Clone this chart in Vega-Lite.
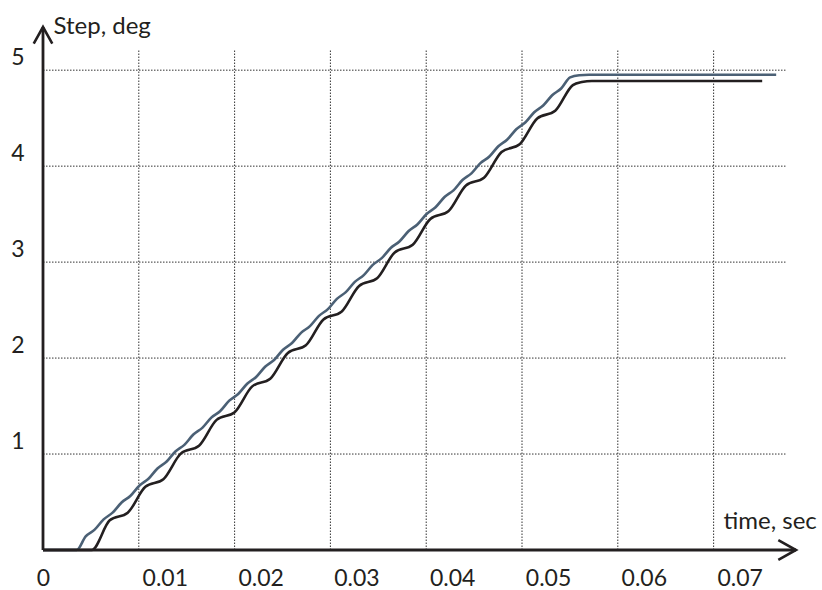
{
  "$schema": "https://vega.github.io/schema/vega-lite/v6.json",
  "width": 753,
  "height": 523,
  "autosize": "none",
  "padding": {"left": 43, "top": 27, "right": 26, "bottom": 40},
  "background": "white",
  "config": {"view": {"stroke": null}},
  "datasets": {
    "grid": [
      {"x": 0.01, "x2": 0.01, "y": 0, "y2": 5.21},
      {"x": 0.02, "x2": 0.02, "y": 0, "y2": 5.21},
      {"x": 0.03, "x2": 0.03, "y": 0, "y2": 5.21},
      {"x": 0.04, "x2": 0.04, "y": 0, "y2": 5.21},
      {"x": 0.05, "x2": 0.05, "y": 0, "y2": 5.21},
      {"x": 0.06, "x2": 0.06, "y": 0, "y2": 5.21},
      {"x": 0.07, "x2": 0.07, "y": 0, "y2": 5.21},
      {"x": 0, "x2": 0.0775, "y": 1, "y2": 1},
      {"x": 0, "x2": 0.0775, "y": 2, "y2": 2},
      {"x": 0, "x2": 0.0775, "y": 3, "y2": 3},
      {"x": 0, "x2": 0.0775, "y": 4, "y2": 4},
      {"x": 0, "x2": 0.0775, "y": 5, "y2": 5}
    ],
    "axes": [
      {"a": "x", "x": 0, "y": 0, "x2": 0.0786, "y2": 0},
      {"a": "y", "x": 0, "y": 0, "x2": 0, "y2": 5.45}
    ],
    "curves": [
      {"s": "s1", "t": 0, "v": 0},
      {"s": "s1", "t": 0.00509, "v": 0},
      {"s": "s1", "t": 0.006967, "v": 0.309},
      {"s": "s1", "t": 0.008847, "v": 0.389},
      {"s": "s1", "t": 0.010685, "v": 0.658},
      {"s": "s1", "t": 0.012565, "v": 0.738},
      {"s": "s1", "t": 0.014404, "v": 1.007},
      {"s": "s1", "t": 0.016284, "v": 1.087},
      {"s": "s1", "t": 0.018122, "v": 1.356},
      {"s": "s1", "t": 0.020002, "v": 1.436},
      {"s": "s1", "t": 0.02184, "v": 1.705},
      {"s": "s1", "t": 0.02372, "v": 1.785},
      {"s": "s1", "t": 0.025559, "v": 2.054},
      {"s": "s1", "t": 0.027439, "v": 2.134},
      {"s": "s1", "t": 0.029277, "v": 2.403},
      {"s": "s1", "t": 0.031157, "v": 2.483},
      {"s": "s1", "t": 0.032996, "v": 2.752},
      {"s": "s1", "t": 0.034876, "v": 2.832},
      {"s": "s1", "t": 0.036714, "v": 3.101},
      {"s": "s1", "t": 0.038594, "v": 3.181},
      {"s": "s1", "t": 0.040433, "v": 3.45},
      {"s": "s1", "t": 0.042313, "v": 3.53},
      {"s": "s1", "t": 0.044151, "v": 3.799},
      {"s": "s1", "t": 0.046031, "v": 3.879},
      {"s": "s1", "t": 0.047869, "v": 4.148},
      {"s": "s1", "t": 0.049749, "v": 4.228},
      {"s": "s1", "t": 0.051588, "v": 4.497},
      {"s": "s1", "t": 0.053468, "v": 4.577},
      {"s": "s1", "t": 0.055306, "v": 4.845},
      {"s": "s1", "t": 0.05625, "v": 4.877},
      {"s": "s1", "t": 0.0573, "v": 4.888},
      {"s": "s1", "t": 0.07507, "v": 4.888},
      {"s": "s2", "t": 0, "v": 0},
      {"s": "s2", "t": 0.00352, "v": 0},
      {"s": "s2", "t": 0.004456, "v": 0.142},
      {"s": "s2", "t": 0.005392, "v": 0.212},
      {"s": "s2", "t": 0.006329, "v": 0.319},
      {"s": "s2", "t": 0.007265, "v": 0.389},
      {"s": "s2", "t": 0.008202, "v": 0.495},
      {"s": "s2", "t": 0.009138, "v": 0.565},
      {"s": "s2", "t": 0.010074, "v": 0.672},
      {"s": "s2", "t": 0.01101, "v": 0.742},
      {"s": "s2", "t": 0.011947, "v": 0.849},
      {"s": "s2", "t": 0.012883, "v": 0.919},
      {"s": "s2", "t": 0.01382, "v": 1.026},
      {"s": "s2", "t": 0.014756, "v": 1.096},
      {"s": "s2", "t": 0.015693, "v": 1.203},
      {"s": "s2", "t": 0.016629, "v": 1.273},
      {"s": "s2", "t": 0.017566, "v": 1.379},
      {"s": "s2", "t": 0.018502, "v": 1.449},
      {"s": "s2", "t": 0.019438, "v": 1.556},
      {"s": "s2", "t": 0.020374, "v": 1.626},
      {"s": "s2", "t": 0.021311, "v": 1.733},
      {"s": "s2", "t": 0.022247, "v": 1.803},
      {"s": "s2", "t": 0.023184, "v": 1.91},
      {"s": "s2", "t": 0.02412, "v": 1.98},
      {"s": "s2", "t": 0.025057, "v": 2.087},
      {"s": "s2", "t": 0.025993, "v": 2.157},
      {"s": "s2", "t": 0.02693, "v": 2.263},
      {"s": "s2", "t": 0.027866, "v": 2.333},
      {"s": "s2", "t": 0.028803, "v": 2.44},
      {"s": "s2", "t": 0.029739, "v": 2.51},
      {"s": "s2", "t": 0.030675, "v": 2.617},
      {"s": "s2", "t": 0.031611, "v": 2.687},
      {"s": "s2", "t": 0.032548, "v": 2.794},
      {"s": "s2", "t": 0.033484, "v": 2.864},
      {"s": "s2", "t": 0.034421, "v": 2.971},
      {"s": "s2", "t": 0.035357, "v": 3.041},
      {"s": "s2", "t": 0.036294, "v": 3.147},
      {"s": "s2", "t": 0.03723, "v": 3.217},
      {"s": "s2", "t": 0.038167, "v": 3.324},
      {"s": "s2", "t": 0.039103, "v": 3.394},
      {"s": "s2", "t": 0.040039, "v": 3.501},
      {"s": "s2", "t": 0.040975, "v": 3.571},
      {"s": "s2", "t": 0.041912, "v": 3.678},
      {"s": "s2", "t": 0.042848, "v": 3.748},
      {"s": "s2", "t": 0.043785, "v": 3.855},
      {"s": "s2", "t": 0.044721, "v": 3.925},
      {"s": "s2", "t": 0.045658, "v": 4.031},
      {"s": "s2", "t": 0.046594, "v": 4.101},
      {"s": "s2", "t": 0.047531, "v": 4.208},
      {"s": "s2", "t": 0.048467, "v": 4.278},
      {"s": "s2", "t": 0.049403, "v": 4.385},
      {"s": "s2", "t": 0.050339, "v": 4.455},
      {"s": "s2", "t": 0.051276, "v": 4.562},
      {"s": "s2", "t": 0.052212, "v": 4.632},
      {"s": "s2", "t": 0.053149, "v": 4.739},
      {"s": "s2", "t": 0.054085, "v": 4.809},
      {"s": "s2", "t": 0.055022, "v": 4.925},
      {"s": "s2", "t": 0.05597, "v": 4.948},
      {"s": "s2", "t": 0.057, "v": 4.952},
      {"s": "s2", "t": 0.07653, "v": 4.952}
    ]
  },
  "layer": [
    {
      "data": {"name": "grid"},
      "mark": {"type": "rule", "color": "#333333", "strokeWidth": 1, "strokeDash": [1.5, 1.5]},
      "encoding": {
        "x": {
          "field": "x", "type": "quantitative",
          "scale": {"domain": [0, 0.0786], "nice": false, "zero": false},
          "axis": {
            "title": "time, sec", "titleFont": "Lato", "titleFontSize": 24, "titleFontWeight": "normal",
            "titleColor": "#231f20", "titleAlign": "left", "titleBaseline": "alphabetic",
            "titleX": 680, "titleY": -22, "titleAngle": 0,
            "values": [0, 0.01, 0.02, 0.03, 0.04, 0.05, 0.06, 0.07], "format": ".2~f",
            "domain": false, "ticks": false, "tickSize": 0, "grid": false,
            "labelFont": "Lato", "labelFontSize": 23, "labelColor": "#231f20",
            "labelPadding": 17, "labelBaseline": "top", "labelAlign": "center",
            "labelOffset": {"condition": {"test": "datum.value == 0", "value": 0}, "value": 26},
            "labelFlush": false, "labelOverlap": false
          }
        },
        "x2": {"field": "x2"},
        "y": {
          "field": "y", "type": "quantitative",
          "scale": {"domain": [0, 5.45], "nice": false, "zero": false},
          "axis": {
            "title": "Step, deg", "titleFont": "Lato", "titleFontSize": 24, "titleFontWeight": "normal",
            "titleColor": "#231f20", "titleAlign": "left", "titleBaseline": "alphabetic",
            "titleX": 10, "titleY": 6, "titleAngle": 0,
            "values": [1, 2, 3, 4, 5], "format": "d",
            "domain": false, "ticks": false, "tickSize": 0, "grid": false,
            "labelFont": "Lato", "labelFontSize": 23, "labelColor": "#231f20",
            "labelPadding": 19, "labelAlign": "right", "labelBaseline": "alphabetic", "labelOffset": -6
          }
        },
        "y2": {"field": "y2"}
      }
    },
    {
      "data": {"name": "curves"},
      "mark": {"type": "line", "interpolate": "monotone", "strokeWidth": 2.6},
      "encoding": {
        "x": {"field": "t", "type": "quantitative"},
        "y": {"field": "v", "type": "quantitative"},
        "color": {"field": "s", "type": "nominal", "scale": {"domain": ["s1", "s2"], "range": ["#231f20", "#4b6075"]}, "legend": null}
      }
    },
    {
      "data": {"name": "axes"},
      "mark": {"type": "rule", "color": "#231f20", "strokeWidth": 2.8},
      "encoding": {
        "x": {"field": "x", "type": "quantitative"},
        "x2": {"field": "x2"},
        "y": {"field": "y", "type": "quantitative"},
        "y2": {"field": "y2"}
      }
    },
    {
      "data": {"name": "axes"},
      "transform": [{"filter": "datum.a == 'x'"}],
      "mark": {"type": "point", "shape": "M-1,-0.56L0,0L-1,0.56", "filled": false, "stroke": "#231f20", "strokeWidth": 2.6, "size": 1250, "opacity": 1},
      "encoding": {
        "x": {"field": "x2", "type": "quantitative"},
        "y": {"field": "y2", "type": "quantitative"}
      }
    },
    {
      "data": {"name": "axes"},
      "transform": [{"filter": "datum.a == 'y'"}],
      "mark": {"type": "point", "shape": "M-1,-0.56L0,0L-1,0.56", "filled": false, "stroke": "#231f20", "strokeWidth": 2.6, "size": 1100, "angle": -90, "opacity": 1},
      "encoding": {
        "x": {"field": "x2", "type": "quantitative"},
        "y": {"field": "y2", "type": "quantitative"}
      }
    }
  ]
}
